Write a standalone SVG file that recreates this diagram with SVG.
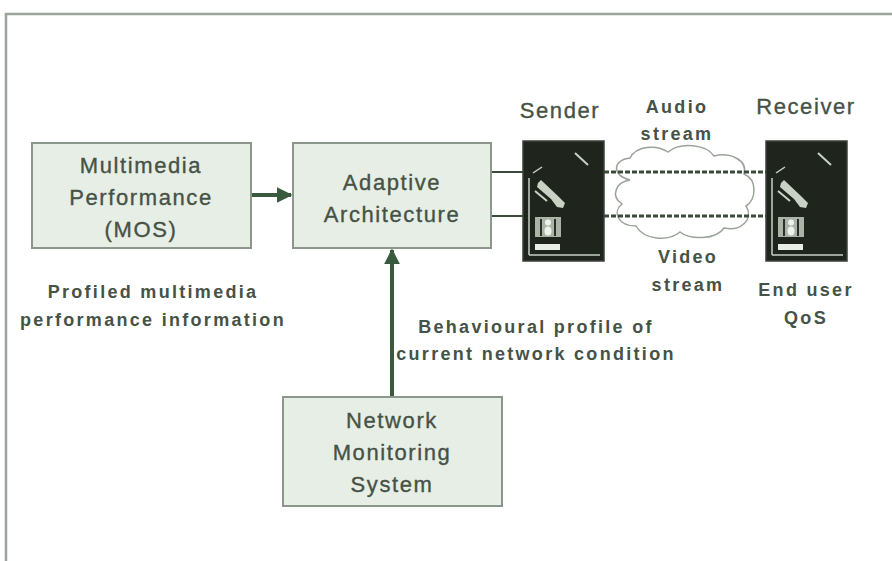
<svg xmlns="http://www.w3.org/2000/svg" width="892" height="561" viewBox="0 0 892 561">
  <style>
    .box { fill: #e7eee5; stroke: #8c978b; stroke-width: 2; }
    .lbl { font-family: "Liberation Sans", Arial, sans-serif; font-size: 22px; fill: #465246; stroke: #465246; stroke-width: 0.35; text-anchor: middle; letter-spacing: 1.6px; }
    .note { font-family: "Liberation Sans", Arial, sans-serif; font-size: 18px; font-weight: bold; fill: #465246; text-anchor: middle; letter-spacing: 2.3px; }
    .wire { stroke: #3c4a3c; stroke-width: 2; fill: none; }
    .dot { stroke: #3c4a3c; stroke-width: 3; fill: none; stroke-dasharray: 5 2; }
    .arrow { stroke: #3a5a3e; stroke-width: 4; fill: none; }
    .dev { fill: #1f251d; stroke: #3a4238; stroke-width: 1.5; }
    .devln { stroke: #c9d1c4; fill: none; }
  </style>
  <defs>
    <marker id="head" viewBox="0 0 10 10" refX="9" refY="5" markerWidth="4" markerHeight="4" orient="auto">
      <path d="M0,0 L10,5 L0,10 Z" fill="#3a5a3e"/>
    </marker>
    <!-- terminal icon shared by sender and receiver -->
    <g id="terminal">
      <rect class="dev" x="0" y="0" width="81" height="120"/>
      <line class="devln" x1="52" y1="12" x2="65" y2="24" stroke-width="2"/>
      <line class="devln" x1="10" y1="32" x2="19" y2="26" stroke-width="1.5"/>
      <line class="devln" x1="6" y1="37" x2="6" y2="114" stroke-width="1.5"/>
      <line class="devln" x1="6" y1="114" x2="77" y2="114" stroke-width="1.5"/>
      <!-- stylus -->
      <path d="M15,42 L18,39 L36,56 L42,62 L40,67 L34,66 L28,58 L14,46 Z" fill="#c9d1c4"/>
      <line class="devln" x1="12" y1="50" x2="24" y2="60" stroke-width="2"/>
      <!-- card -->
      <rect x="12" y="76" width="26" height="20" fill="#aab3a6"/>
      <rect x="17" y="78" width="2" height="17" fill="#2a3028"/>
      <rect x="31" y="78" width="2" height="17" fill="#2a3028"/>
      <circle cx="25" cy="81.5" r="3" fill="#eef2ec"/>
      <ellipse cx="25" cy="90" rx="3.5" ry="4.5" fill="#eef2ec"/>
      <rect x="12" y="103" width="25" height="6" fill="#e8ede5"/>
    </g>
  </defs>

  <!-- page frame -->
  <path d="M6,561 L6,14 L892,14" fill="none" stroke="#9aa59a" stroke-width="2.5"/>

  <!-- connectors -->
  <g id="connectors">
    <line class="arrow" x1="251" y1="195" x2="291" y2="195" marker-end="url(#head)"/>
    <line class="arrow" x1="392" y1="397" x2="392" y2="250" marker-end="url(#head)"/>
    <line class="wire" x1="491" y1="172" x2="523" y2="172"/>
    <line class="wire" x1="491" y1="216" x2="523" y2="216"/>
    <!-- network cloud -->
    <path d="M630,180 C612,176 612,160 630,158 C636,146 656,144 668,152 C680,142 706,144 714,156 C730,152 748,160 744,174 C758,180 756,200 746,206 C754,218 742,232 724,228 C716,240 690,240 680,232 C668,242 644,240 636,226 C618,226 612,212 622,204 C610,196 616,182 630,180 Z" fill="#ffffff" stroke="#9aa29a" stroke-width="1.5"/>
    <line class="dot" x1="604" y1="172" x2="766" y2="172"/>
    <line class="dot" x1="604" y1="216" x2="766" y2="216"/>
  </g>

  <g id="mos">
    <rect class="box" x="32" y="143" width="219" height="105"/>
    <text class="lbl" x="141" y="173">Multimedia</text>
    <text class="lbl" x="141" y="205">Performance</text>
    <text class="lbl" x="141" y="237">(MOS)</text>
  </g>

  <g id="adaptive">
    <rect class="box" x="293" y="143" width="198" height="105"/>
    <text class="lbl" x="392" y="190">Adaptive</text>
    <text class="lbl" x="392" y="222">Architecture</text>
  </g>

  <g id="monitor">
    <rect class="box" x="283" y="397" width="219" height="109"/>
    <text class="lbl" x="392" y="428">Network</text>
    <text class="lbl" x="392" y="460">Monitoring</text>
    <text class="lbl" x="392" y="492">System</text>
  </g>

  <g id="sender">
    <use href="#terminal" x="523" y="141"/>
    <text class="lbl" x="560" y="118">Sender</text>
  </g>

  <g id="receiver">
    <use href="#terminal" x="766" y="141"/>
    <text class="lbl" x="806" y="114">Receiver</text>
    <text class="note" x="806" y="296">End user</text>
    <text class="note" x="806" y="324">QoS</text>
  </g>

  <g id="labels">
    <text class="note" x="677" y="113">Audio</text>
    <text class="note" x="677" y="140">stream</text>
    <text class="note" x="688" y="263">Video</text>
    <text class="note" x="688" y="291">stream</text>
    <text class="note" x="153" y="298">Profiled multimedia</text>
    <text class="note" x="153" y="326">performance information</text>
    <text class="note" x="536" y="333">Behavioural profile of</text>
    <text class="note" x="536" y="360">current network condition</text>
  </g>
</svg>
